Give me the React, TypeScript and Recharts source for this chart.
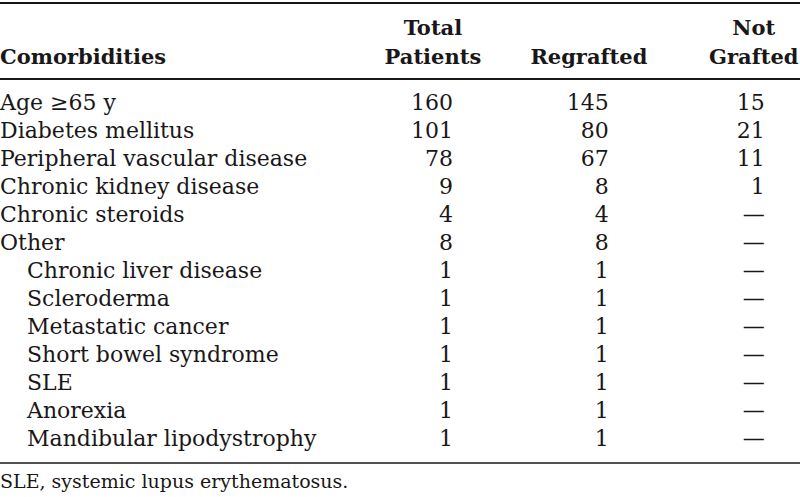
import React from "react";
import { ScatterChart, Scatter, XAxis, YAxis, Customized } from "recharts";

const rowHeader = "Comorbidities";
const columnHeaders = [["Total", "Patients"], ["Regrafted"], ["Not", "Grafted"]];
const rowLabels = [
  "Age ≥65 y",
  "Diabetes mellitus",
  "Peripheral vascular disease",
  "Chronic kidney disease",
  "Chronic steroids",
  "Other",
  "Chronic liver disease",
  "Scleroderma",
  "Metastatic cancer",
  "Short bowel syndrome",
  "SLE",
  "Anorexia",
  "Mandibular lipodystrophy",
];
const rowLevel = [0, 0, 0, 0, 0, 0, 1, 1, 1, 1, 1, 1, 1];
const totalPatients = [160, 101, 78, 9, 4, 8, 1, 1, 1, 1, 1, 1, 1];
const regrafted = [145, 80, 67, 8, 4, 8, 1, 1, 1, 1, 1, 1, 1];
const notGrafted: (number | null)[] = [15, 21, 11, 1, null, null, null, null, null, null, null, null, null];
const footnote = "SLE, systemic lupus erythematosus.";

const columns = [totalPatients, regrafted, notGrafted];
const cellData = columns.map((vals, c) =>
  vals.map((v, r) => ({ col: c, row: r, value: v }))
);

const FONT = "'DejaVu Serif', serif";
const FS = 22;
const HFS = 21;
const INK = "#1a1718";

const CellText = (props: any) => {
  const { cx, cy, payload } = props;
  const v = payload.value;
  return (
    <text
      x={cx}
      y={cy + FS * 0.36}
      textAnchor="end"
      fontFamily={FONT}
      fontSize={FS}
      fill={INK}
    >
      {v === null || v === undefined ? "—" : String(v)}
    </text>
  );
};

const HeaderTick = (props: any) => {
  const { x, payload } = props;
  const lines = columnHeaders[payload.value] || [];
  const shift = [-20, -20, -11][payload.value] || 0;
  const baselines = lines.length === 2 ? [35, 64] : [64];
  return (
    <g>
      {lines.map((l, i) => (
        <text
          key={i}
          x={x + shift}
          y={baselines[i]}
          textAnchor="middle"
          fontFamily={FONT}
          fontWeight="bold"
          fontSize={HFS}
          fill={INK}
        >
          {l}
        </text>
      ))}
    </g>
  );
};

const RowTick = (props: any) => {
  const { y, payload } = props;
  const i = payload.value;
  return (
    <text
      x={rowLevel[i] ? 27 : 0}
      y={y + FS * 0.36}
      textAnchor="start"
      fontFamily={FONT}
      fontSize={FS}
      fill={INK}
    >
      {rowLabels[i]}
    </text>
  );
};

const Decor = () => (
  <g>
    <line x1={0} x2={800} y1={3} y2={3} stroke={INK} strokeWidth={2} />
    <line x1={0} x2={800} y1={79} y2={79} stroke={INK} strokeWidth={2} />
    <line x1={0} x2={800} y1={463} y2={463} stroke={INK} strokeWidth={1.5} />
    <text x={0} y={64} fontFamily={FONT} fontWeight="bold" fontSize={HFS} fill={INK}>
      {rowHeader}
    </text>
    <text x={0} y={488} fontFamily={FONT} fontSize={19} fill={INK}>
      {footnote}
    </text>
  </g>
);

export default function App() {
  return (
    <div style={{ position: "absolute", left: 0, top: 0, background: "#fff" }}>
      <ScatterChart
        width={800}
        height={497}
        margin={{ top: 0, right: 4, bottom: 34, left: 0 }}
      >
        <XAxis
          type="number"
          dataKey="col"
          orientation="top"
          domain={[-1.5, 2.2]}
          ticks={[0, 1, 2]}
          height={79}
          axisLine={false}
          tickLine={false}
          tick={<HeaderTick />}
          allowDataOverflow
        />
        <YAxis
          type="number"
          dataKey="row"
          reversed
          domain={[-0.82, 12.89]}
          ticks={rowLabels.map((_, i) => i)}
          width={219}
          axisLine={false}
          tickLine={false}
          tick={<RowTick />}
          interval={0}
          allowDataOverflow
        />
        {cellData.map((d, i) => (
          <Scatter
            key={i}
            data={d}
            shape={<CellText />}
            isAnimationActive={false}
          />
        ))}
        <Customized component={<Decor />} />
      </ScatterChart>
    </div>
  );
}
